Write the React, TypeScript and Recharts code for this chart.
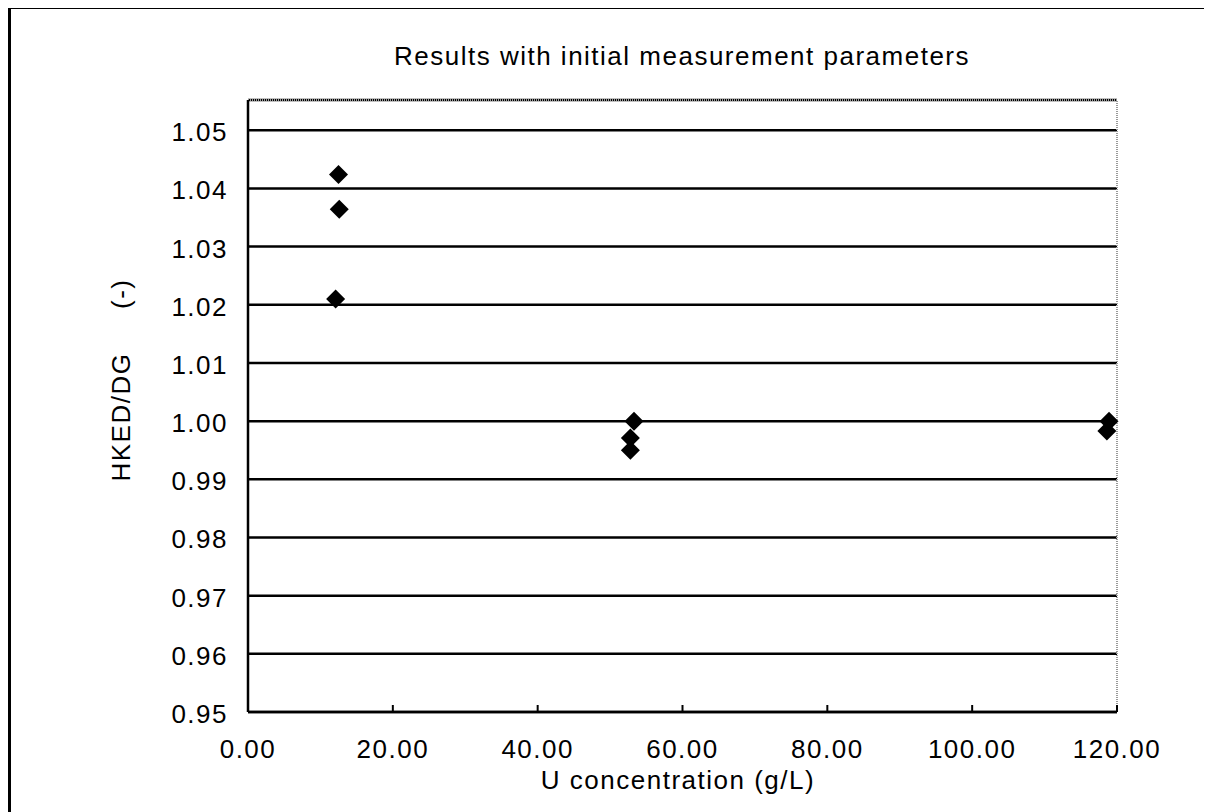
import { ScatterChart, Scatter, XAxis, YAxis, CartesianGrid, ReferenceLine } from 'recharts';

// U concentration (g/L) vs HKED/DG ratio
const uConc = [12.5, 12.6, 12.1, 53.3, 52.8, 52.8, 118.9, 118.6];
const ratio = [1.0424, 1.0364, 1.021, 1.0, 0.9971, 0.995, 1.0, 0.9983];

const xTicks = [0, 20, 40, 60, 80, 100, 120];
const yTicks = [0.95, 0.96, 0.97, 0.98, 0.99, 1.0, 1.01, 1.02, 1.03, 1.04, 1.05];
const yTop = 1.0552;

const points = uConc.map((u, i) => ({ u, r: ratio[i] }));

const FONT = 'Arial, "Liberation Sans", Helvetica, sans-serif';
const textStyle = { fontFamily: FONT, fontSize: 26, letterSpacing: 1.5, fill: '#000' };

function XTick(props: any) {
  const { x, y, payload } = props;
  return (
    <g>
      <line x1={x} y1={y} x2={x} y2={y - 7} stroke="#000" strokeWidth={2} />
      <text x={x} y={y + 46} textAnchor="middle" style={textStyle}>
        {Number(payload.value).toFixed(2)}
      </text>
    </g>
  );
}

function YTick(props: any) {
  const { x, y, payload } = props;
  return (
    <text x={x - 20} y={y + 11} textAnchor="end" style={textStyle}>
      {Number(payload.value).toFixed(2)}
    </text>
  );
}

function Diamond(props: any) {
  const { cx, cy } = props;
  const s = 9.5;
  return <path d={`M${cx},${cy - s}L${cx + s},${cy}L${cx},${cy + s}L${cx - s},${cy}Z`} fill="#000" />;
}

export default function App() {
  return (
    <div style={{ position: 'relative', width: 1204, height: 804, background: '#fff' }}>
      <div
        style={{
          position: 'absolute',
          left: 0,
          top: -2,
          width: 1202,
          height: 820,
          borderLeft: '3px solid #000',
          borderTop: '3px solid #000',
          borderRight: '3px solid #000',
          boxSizing: 'border-box',
        }}
      />
      <ScatterChart width={1204} height={800} margin={{ top: 92, right: 95, bottom: 36, left: 0 }}>
        <CartesianGrid vertical={false} stroke="#000" strokeWidth={2.5} />
        <ReferenceLine y={yTop} stroke="#999" strokeWidth={2} strokeDasharray="1 1" ifOverflow="extendDomain" />
        <ReferenceLine x={120} stroke="#999" strokeWidth={2} strokeDasharray="1 1" />
        <XAxis
          type="number"
          dataKey="u"
          domain={[0, 120]}
          ticks={xTicks}
          height={60}
          axisLine={{ stroke: '#000', strokeWidth: 2.5 }}
          tickLine={false}
          tickSize={0}
          tickMargin={0}
          tick={<XTick />}
          interval={0}
        />
        <YAxis
          type="number"
          dataKey="r"
          domain={[0.95, yTop]}
          allowDataOverflow
          ticks={yTicks}
          width={240}
          axisLine={{ stroke: '#000', strokeWidth: 2.5 }}
          tickLine={false}
          tickSize={0}
          tickMargin={0}
          tick={<YTick />}
          interval={0}
        />
        <Scatter data={points} shape={<Diamond />} isAnimationActive={false} />
        <text x={674} y={57} textAnchor="middle" style={textStyle}>
          Results with initial measurement parameters
        </text>
        <text x={670} y={781} textAnchor="middle" style={textStyle}>
          U concentration (g/L)
        </text>
        <text
          x={0}
          y={0}
          textAnchor="middle"
          transform="translate(122, 372) rotate(-90)"
          style={{ ...textStyle, whiteSpace: 'pre' }}
        >
          {'HKED/DG     (-)'}
        </text>
      </ScatterChart>
    </div>
  );
}
